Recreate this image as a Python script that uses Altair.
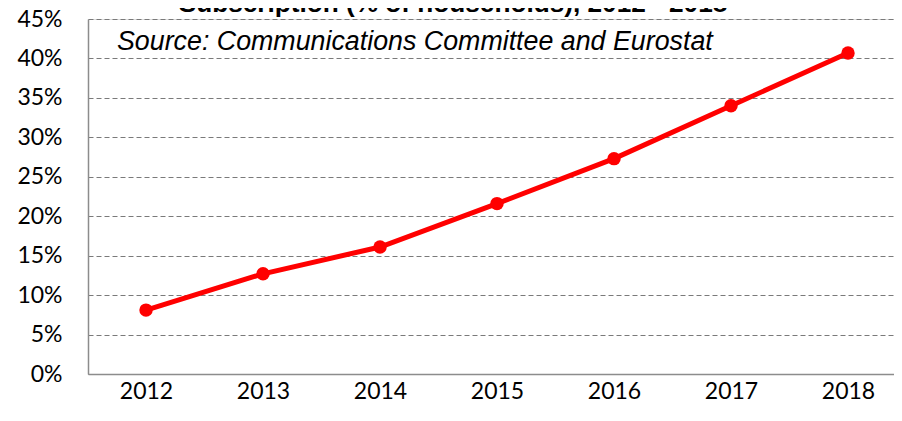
import altair as alt
import pandas as pd

years = [2012, 2013, 2014, 2015, 2016, 2017, 2018]
share = [0.081, 0.127, 0.161, 0.216, 0.273, 0.340, 0.407]
y_ticks = [0.0, 0.05, 0.10, 0.15, 0.20, 0.25, 0.30, 0.35, 0.40, 0.45]
title_text = "Subscription (% of households), 2012 - 2018"
source_text = "Source: Communications Committee and Eurostat"

df = pd.DataFrame({"year": years, "share": share})

W, H = 806, 355

x = alt.X("year:Q",
          scale=alt.Scale(domain=[2011.504, 2018.393], nice=False, zero=False),
          axis=alt.Axis(values=years, format="d", grid=False, ticks=False,
                        domain=True, domainColor="#8c8c8c", domainWidth=1.5,
                        labelFont="Lato", labelFontSize=23, labelColor="#000000",
                        labelPadding=6, title=None))
y = alt.Y("share:Q",
          scale=alt.Scale(domain=[0, 0.45], nice=False),
          axis=alt.Axis(values=y_ticks, format=".0%", grid=True,
                        gridColor="#7a7a7a", gridDash=[5, 3], gridWidth=1,
                        ticks=False, domain=True, domainColor="#8c8c8c", domainWidth=1.5,
                        labelFont="Lato", labelFontSize=23, labelColor="#000000",
                        labelPadding=26, title=None))

line = alt.Chart(df).mark_line(color="#ff0000", strokeWidth=5).encode(x=x, y=y)
pts = alt.Chart(df).mark_circle(color="#ff0000", size=180, opacity=1).encode(x=x, y=y)

src = alt.Chart(pd.DataFrame({"t": [source_text]})).mark_text(
    font="Liberation Sans", fontStyle="italic", fontSize=26.8, align="left",
    baseline="alphabetic", color="#000000"
).encode(text="t:N", x=alt.value(29), y=alt.value(31))

ttl = alt.Chart(pd.DataFrame({"t": [title_text]})).mark_text(
    font="Liberation Sans", fontWeight="bold", fontSize=26.2, align="center",
    baseline="alphabetic", color="#000000"
).encode(text="t:N", x=alt.value(365), y=alt.value(-7))

chart = alt.layer(line, pts, src, ttl).properties(
    width=W, height=H,
    autosize=alt.AutoSizeParams(type="none"),
    padding={"left": 80, "top": 11, "right": 0, "bottom": 35},
).configure_view(stroke=None).configure(background="#ffffff")

chart.save("out.html", embed_options={"renderer": "svg", "actions": False})
